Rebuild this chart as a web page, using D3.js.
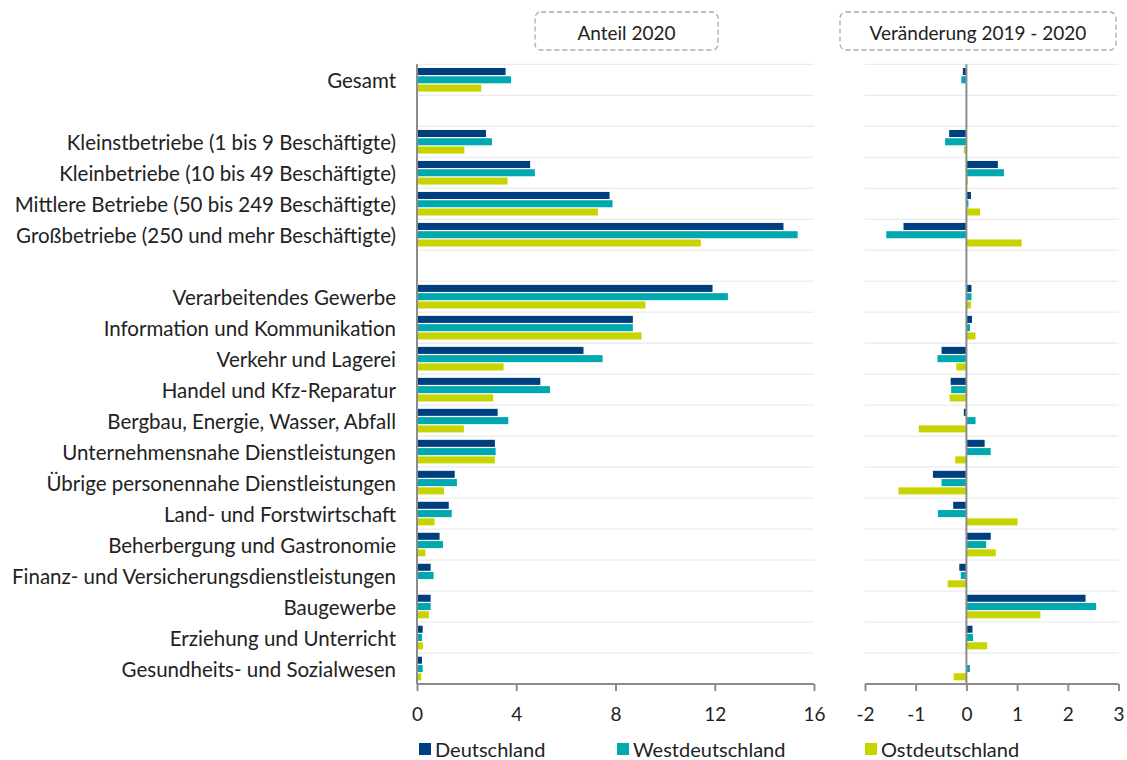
<!DOCTYPE html>
<html>
<head>
<meta charset="utf-8">
<script src="https://cdn.jsdelivr.net/npm/d3@7"></script>
<style>
  body { margin: 0; background: #fff; }
  text { font-family: Lato, "Noto Sans", sans-serif; fill: #222; }
</style>
</head>
<body>
<script>
// rows of the chart, "" = empty spacer row
var categories = [
    "Gesamt", "",
    "Kleinstbetriebe (1 bis 9 Beschäftigte)",
    "Kleinbetriebe (10 bis 49 Beschäftigte)",
    "Mittlere Betriebe (50 bis 249 Beschäftigte)",
    "Großbetriebe (250 und mehr Beschäftigte)", " ",
    "Verarbeitendes Gewerbe",
    "Information und Kommunikation",
    "Verkehr und Lagerei",
    "Handel und Kfz-Reparatur",
    "Bergbau, Energie, Wasser, Abfall",
    "Unternehmensnahe Dienstleistungen",
    "Übrige personennahe Dienstleistungen",
    "Land- und Forstwirtschaft",
    "Beherbergung und Gastronomie",
    "Finanz- und Versicherungsdienstleistungen",
    "Baugewerbe",
    "Erziehung und Unterricht",
    "Gesundheits- und Sozialwesen"
];

var seriesNames = ["Deutschland", "Westdeutschland", "Ostdeutschland"];

// Anteil 2020
var anteilDeutschland = [3.57, null, 2.78, 4.56, 7.76, 14.77, null, 11.91, 8.70, 6.71, 4.97, 3.25, 3.14, 1.52, 1.28, 0.91, 0.55, 0.55, 0.23, 0.20];
var anteilWest        = [3.79, null, 3.02, 4.75, 7.88, 15.34, null, 12.53, 8.70, 7.48, 5.36, 3.68, 3.17, 1.61, 1.40, 1.05, 0.67, 0.55, 0.20, 0.23];
var anteilOst         = [2.59, null, 1.91, 3.65, 7.29, 11.44, null, 9.21, 9.05, 3.49, 3.07, 1.89, 3.14, 1.09, 0.71, 0.34, 0.00, 0.48, 0.24, 0.17];

// Veränderung 2019 - 2020
var changeDeutschland = [-0.07, null, -0.34, 0.62, 0.09, -1.24, null, 0.10, 0.11, -0.49, -0.31, -0.05, 0.36, -0.66, -0.26, 0.48, -0.14, 2.35, 0.12, 0.01];
var changeWest        = [-0.10, null, -0.42, 0.74, 0.04, -1.58, null, 0.10, 0.07, -0.57, -0.30, 0.18, 0.48, -0.49, -0.56, 0.39, -0.11, 2.56, 0.13, 0.07];
var changeOst         = [0.00, null, -0.05, 0.03, 0.27, 1.09, null, 0.09, 0.18, -0.20, -0.33, -0.94, -0.22, -1.34, 1.01, 0.58, -0.37, 1.46, 0.41, -0.25];

var anteilTicks = [0, 4, 8, 12, 16];
var changeTicks = [-2, -1, 0, 1, 2, 3];
var colors = ["#003f7f", "#00a8b0", "#c8d400"];

var W = 1127, H = 760;
var plotTop = 64.3, plotBottom = 684;

var svg = d3.select("body").append("svg")
    .attr("width", W).attr("height", H);

var y = d3.scaleBand().domain(categories).range([plotTop, plotBottom]).padding(0);
var ySeries = d3.scaleBand().domain(seriesNames)
    .range([3.7, y.bandwidth() - 3.7]).paddingInner(0.15);

var xLeft = d3.scaleLinear().domain([0, 16]).range([417, 814]);
var xRight = d3.scaleLinear().domain([-2, 3]).range([865, 1118.5]);

function panel(x, vals, ticks, title, box) {
    var g = svg.append("g");
    var x0 = x.range()[0], x1 = x.range()[1];

    // horizontal grid lines between rows
    g.selectAll("line.grid").data(categories).enter().append("line")
        .attr("x1", x0).attr("x2", x1)
        .attr("y1", function(d){ return y(d); })
        .attr("y2", function(d){ return y(d); })
        .attr("stroke", "#e6e6e6").attr("stroke-width", 1);

    // bars
    seriesNames.forEach(function(s, si){
        var rows = categories.map(function(c, i){ return {cat: c, v: vals[si][i]}; })
            .filter(function(r){ return r.v !== null; });
        g.selectAll("rect.s" + si).data(rows).enter().append("rect")
            .attr("x", function(r){ return x(Math.min(0, r.v)); })
            .attr("width", function(r){ return Math.abs(x(r.v) - x(0)); })
            .attr("y", function(r){ return y(r.cat) + ySeries(s); })
            .attr("height", ySeries.bandwidth())
            .attr("fill", colors[si]);
    });

    // zero line
    g.append("line")
        .attr("x1", x(0)).attr("x2", x(0))
        .attr("y1", plotTop).attr("y2", plotBottom)
        .attr("stroke", "#8c8c8c").attr("stroke-width", 2);

    // x axis
    var axis = g.append("g").attr("transform", "translate(0," + plotBottom + ")")
        .call(d3.axisBottom(x).tickValues(ticks).tickSize(7)
            .tickFormat(function(d){ return String(d); }));
    axis.select(".domain").attr("stroke", "#8c8c8c").attr("stroke-width", 2)
        .attr("d", "M" + x0 + ",0H" + x1);
    axis.selectAll(".tick line").attr("stroke", "#8c8c8c").attr("stroke-width", 2);
    axis.selectAll(".tick text").attr("font-size", 19).attr("fill", "#222")
        .attr("y", 29).attr("dy", null).attr("dominant-baseline", "central")
        .style("font-family", "Lato, sans-serif");

    // title box
    svg.append("rect")
        .attr("x", box[0]).attr("y", 12).attr("width", box[1]).attr("height", 38)
        .attr("rx", 6).attr("fill", "none")
        .attr("stroke", "#aaa").attr("stroke-width", 1.3)
        .attr("stroke-dasharray", "5,3");
    svg.append("text")
        .attr("x", box[0] + box[1] / 2).attr("y", 32)
        .attr("text-anchor", "middle").attr("dominant-baseline", "central")
        .attr("font-size", 19).text(title);
}

panel(xLeft, [anteilDeutschland, anteilWest, anteilOst], anteilTicks, "Anteil 2020", [535, 183]);
panel(xRight, [changeDeutschland, changeWest, changeOst], changeTicks, "Veränderung 2019 - 2020", [840, 276]);

// category labels
svg.append("g").selectAll("text").data(categories).enter().append("text")
    .attr("x", 396)
    .attr("y", function(d){ return y(d) + y.bandwidth() / 2; })
    .attr("text-anchor", "end").attr("dominant-baseline", "central")
    .attr("font-size", 20.5)
    .text(function(d){ return d.trim(); });

// legend
var legendX = [419, 617, 865];
var legend = svg.append("g").selectAll("g").data(seriesNames).enter().append("g")
    .attr("transform", function(d, i){ return "translate(" + legendX[i] + ",749)"; });
legend.append("rect").attr("x", 0).attr("y", -6).attr("width", 12).attr("height", 12)
    .attr("fill", function(d, i){ return colors[i]; });
legend.append("text").attr("x", 16).attr("y", 0)
    .attr("dominant-baseline", "central").attr("font-size", 20)
    .text(function(d){ return d; });
</script>
</body>
</html>
